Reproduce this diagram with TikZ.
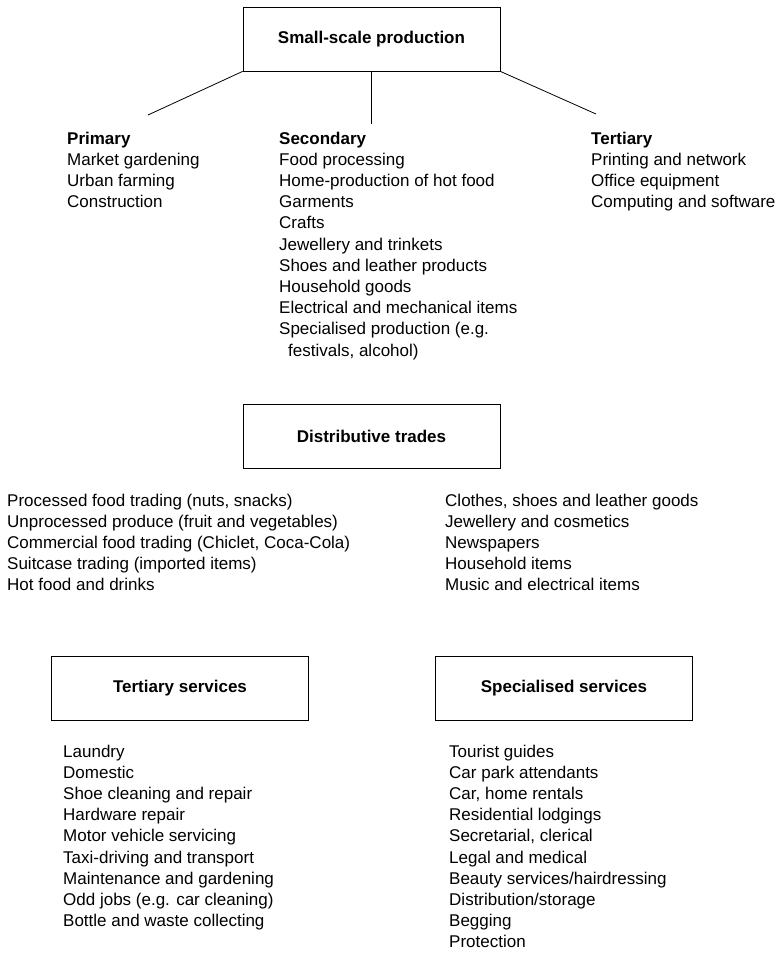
\documentclass[tikz,border=0pt]{standalone}
\usepackage{fontspec}
\setmainfont{Liberation Sans}

\begin{document}
\begin{tikzpicture}[x=1pt, y=-1pt,
      sector/.style={draw, line width=0.8pt, minimum width=257pt, minimum height=64pt,
        font=\fontsize{17}{21.2}\selectfont\bfseries},
      item/.style={anchor=base west, inner sep=0pt, font=\fontsize{17}{21.2}\selectfont},
      head/.style={item, font=\fontsize{17}{21.2}\selectfont\bfseries},
      branch/.style={line width=0.8pt}]
    \useasboundingbox (0,0) rectangle (776,953);
    % the four boxes
    \node[sector] (smallscale) at (371.5,39) {Small-scale production};
    \node[sector] (distrib) at (371.5,436) {Distributive trades};
    \node[sector] (tertserv) at (180,688) {Tertiary services};
    \node[sector] (specserv) at (564,688) {Specialised services};
    % small-scale production branches
    \coordinate (prim-end) at (148,115);
    \coordinate (sec-end) at (371.5,124);
    \coordinate (tert-end) at (596,114);
    \draw[branch] (smallscale.south west) -- (prim-end);
    \draw[branch] (smallscale.south) -- (sec-end);
    \draw[branch] (smallscale.south east) -- (tert-end);
    \node[head] (primary) at (67,144) {Primary};
    \node[head] (secondary) at (279,144) {Secondary};
    \node[head] (tertiary) at (591,144) {Tertiary};
    \foreach \txt [count=\i] in {Market gardening, Urban farming, Construction}
      \node[item] (prim-\i) at (67,144+21.2*\i) {\txt};
    \foreach \txt [count=\i] in {Food processing, Home-production of hot food, Garments,
        Crafts, Jewellery and trinkets, Shoes and leather products, Household goods,
        Electrical and mechanical items, {Specialised production (e.g.},
        {\hspace*{9pt}festivals, alcohol)}}
      \node[item] (sec-\i) at (279,144+21.2*\i) {\txt};
    \foreach \txt [count=\i] in {Printing and network, Office equipment, Computing and software}
      \node[item] (tert-\i) at (591,144+21.2*\i) {\txt};
    % distributive trades
    \foreach \txt [count=\i from 0] in {{Processed food trading (nuts, snacks)},
        {Unprocessed produce (fruit and vegetables)},
        {Commercial food trading (Chiclet, Coca-Cola)},
        {Suitcase trading (imported items)}, Hot food and drinks}
      \node[item] (distl-\i) at (7,506+21.2*\i) {\txt};
    \foreach \txt [count=\i from 0] in {{Clothes, shoes and leather goods},
        Jewellery and cosmetics, Newspapers, Household items, Music and electrical items}
      \node[item] (distr-\i) at (445,506+21.2*\i) {\txt};
    % services
    \foreach \txt [count=\i from 0] in {Laundry, Domestic, Shoe cleaning and repair,
        Hardware repair, Motor vehicle servicing, Taxi-driving and transport,
        Maintenance and gardening, {Odd jobs (e.g. car cleaning)}, Bottle and waste collecting}
      \node[item] (tserv-\i) at (63,757+21.2*\i) {\txt};
    \foreach \txt [count=\i from 0] in {Tourist guides, Car park attendants, {Car, home rentals},
        Residential lodgings, {Secretarial, clerical}, Legal and medical,
        Beauty services/hairdressing, Distribution/storage, Begging, Protection}
      \node[item] (sserv-\i) at (449,757+21.2*\i) {\txt};
  \end{tikzpicture}
\end{document}
